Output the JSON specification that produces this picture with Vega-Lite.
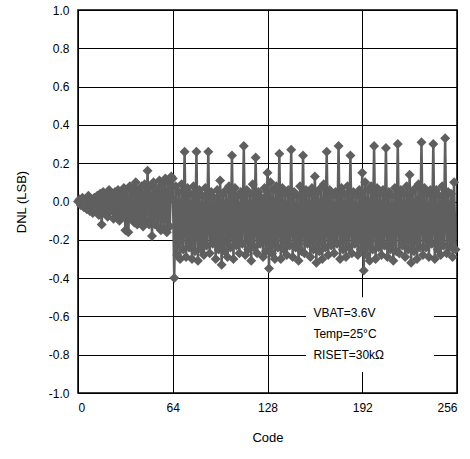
{
  "$schema": "https://vega.github.io/schema/vega-lite/v6.json",
  "width": 379,
  "height": 383,
  "autosize": {"type": "none"},
  "padding": {"left": 78, "top": 10, "right": 13, "bottom": 66},
  "background": "white",
  "config": {
    "view": {"stroke": "black", "strokeWidth": 1.5},
    "font": "Liberation Sans",
    "axis": {
      "gridColor": "black", "gridOpacity": 1, "gridWidth": 1,
      "domain": false, "ticks": false, "labelOverlap": false,
      "labelFont": "Liberation Sans", "labelFontSize": 12, "labelColor": "black",
      "titleFont": "Liberation Sans", "titleFontSize": 13, "titleFontWeight": "normal", "titleColor": "black"
    }
  },
  "layer": [
    {
      "data": {"values": [
        {"c":0,"d":0.00},{"c":1,"d":0.01},{"c":2,"d":-0.02},{"c":3,"d":0.02},{"c":4,"d":-0.03},{"c":5,"d":0.00},{"c":6,"d":-0.04},{"c":7,"d":0.03},
        {"c":8,"d":-0.05},{"c":9,"d":0.01},{"c":10,"d":-0.06},{"c":11,"d":0.02},{"c":12,"d":-0.04},{"c":13,"d":0.03},{"c":14,"d":-0.07},{"c":15,"d":0.04},
        {"c":16,"d":-0.12},{"c":17,"d":0.05},{"c":18,"d":-0.06},{"c":19,"d":0.03},{"c":20,"d":-0.08},{"c":21,"d":0.06},{"c":22,"d":-0.05},{"c":23,"d":0.04},
        {"c":24,"d":-0.09},{"c":25,"d":0.05},{"c":26,"d":-0.07},{"c":27,"d":0.06},{"c":28,"d":-0.10},{"c":29,"d":0.04},{"c":30,"d":-0.08},{"c":31,"d":0.07},
        {"c":32,"d":-0.15},{"c":33,"d":0.06},{"c":34,"d":-0.16},{"c":35,"d":0.08},{"c":36,"d":-0.09},{"c":37,"d":0.07},{"c":38,"d":-0.11},{"c":39,"d":0.10},
        {"c":40,"d":-0.12},{"c":41,"d":0.06},{"c":42,"d":-0.10},{"c":43,"d":0.08},{"c":44,"d":-0.13},{"c":45,"d":0.09},{"c":46,"d":-0.10},{"c":47,"d":0.16},
        {"c":48,"d":-0.12},{"c":49,"d":0.08},{"c":50,"d":-0.18},{"c":51,"d":0.10},{"c":52,"d":-0.12},{"c":53,"d":0.07},{"c":54,"d":-0.13},{"c":55,"d":0.11},
        {"c":56,"d":-0.15},{"c":57,"d":0.09},{"c":58,"d":-0.14},{"c":59,"d":0.12},{"c":60,"d":-0.16},{"c":61,"d":0.10},{"c":62,"d":-0.13},{"c":63,"d":0.13},
        {"c":64,"d":0.12},{"c":65,"d":-0.40},{"c":66,"d":0.08},{"c":67,"d":-0.28},{"c":68,"d":0.05},{"c":69,"d":-0.30},{"c":70,"d":0.09},{"c":71,"d":-0.25},
        {"c":72,"d":0.26},{"c":73,"d":-0.29},{"c":74,"d":0.07},{"c":75,"d":-0.24},{"c":76,"d":0.04},{"c":77,"d":-0.30},{"c":78,"d":0.08},{"c":79,"d":-0.26},
        {"c":80,"d":0.26},{"c":81,"d":-0.31},{"c":82,"d":0.06},{"c":83,"d":-0.25},{"c":84,"d":0.03},{"c":85,"d":-0.28},{"c":86,"d":0.07},{"c":87,"d":-0.23},
        {"c":88,"d":0.26},{"c":89,"d":-0.27},{"c":90,"d":0.05},{"c":91,"d":-0.22},{"c":92,"d":0.02},{"c":93,"d":-0.30},{"c":94,"d":0.06},{"c":95,"d":-0.25},
        {"c":96,"d":0.11},{"c":97,"d":-0.33},{"c":98,"d":0.04},{"c":99,"d":-0.26},{"c":100,"d":0.06},{"c":101,"d":-0.29},{"c":102,"d":0.08},{"c":103,"d":-0.24},
        {"c":104,"d":0.24},{"c":105,"d":-0.30},{"c":106,"d":0.07},{"c":107,"d":-0.23},{"c":108,"d":0.03},{"c":109,"d":-0.27},{"c":110,"d":0.05},{"c":111,"d":-0.22},
        {"c":112,"d":0.29},{"c":113,"d":-0.28},{"c":114,"d":0.06},{"c":115,"d":-0.25},{"c":116,"d":0.04},{"c":117,"d":-0.31},{"c":118,"d":0.09},{"c":119,"d":-0.24},
        {"c":120,"d":0.23},{"c":121,"d":-0.27},{"c":122,"d":0.05},{"c":123,"d":-0.22},{"c":124,"d":0.02},{"c":125,"d":-0.29},{"c":126,"d":0.07},{"c":127,"d":-0.26},
        {"c":128,"d":0.15},{"c":129,"d":-0.35},{"c":130,"d":0.10},{"c":131,"d":-0.27},{"c":132,"d":0.06},{"c":133,"d":-0.30},{"c":134,"d":0.08},{"c":135,"d":-0.24},
        {"c":136,"d":0.25},{"c":137,"d":-0.30},{"c":138,"d":0.07},{"c":139,"d":-0.25},{"c":140,"d":0.04},{"c":141,"d":-0.28},{"c":142,"d":0.06},{"c":143,"d":-0.23},
        {"c":144,"d":0.27},{"c":145,"d":-0.29},{"c":146,"d":0.05},{"c":147,"d":-0.24},{"c":148,"d":0.03},{"c":149,"d":-0.31},{"c":150,"d":0.08},{"c":151,"d":-0.26},
        {"c":152,"d":0.24},{"c":153,"d":-0.27},{"c":154,"d":0.06},{"c":155,"d":-0.22},{"c":156,"d":0.04},{"c":157,"d":-0.29},{"c":158,"d":0.07},{"c":159,"d":-0.25},
        {"c":160,"d":0.13},{"c":161,"d":-0.32},{"c":162,"d":0.05},{"c":163,"d":-0.26},{"c":164,"d":0.07},{"c":165,"d":-0.30},{"c":166,"d":0.09},{"c":167,"d":-0.24},
        {"c":168,"d":0.26},{"c":169,"d":-0.28},{"c":170,"d":0.06},{"c":171,"d":-0.23},{"c":172,"d":0.03},{"c":173,"d":-0.27},{"c":174,"d":0.05},{"c":175,"d":-0.22},
        {"c":176,"d":0.29},{"c":177,"d":-0.30},{"c":178,"d":0.07},{"c":179,"d":-0.25},{"c":180,"d":0.04},{"c":181,"d":-0.29},{"c":182,"d":0.08},{"c":183,"d":-0.24},
        {"c":184,"d":0.24},{"c":185,"d":-0.27},{"c":186,"d":0.05},{"c":187,"d":-0.22},{"c":188,"d":0.03},{"c":189,"d":-0.28},{"c":190,"d":0.06},{"c":191,"d":-0.25},
        {"c":192,"d":0.15},{"c":193,"d":-0.36},{"c":194,"d":0.10},{"c":195,"d":-0.28},{"c":196,"d":0.06},{"c":197,"d":-0.31},{"c":198,"d":0.08},{"c":199,"d":-0.25},
        {"c":200,"d":0.29},{"c":201,"d":-0.30},{"c":202,"d":0.07},{"c":203,"d":-0.24},{"c":204,"d":0.04},{"c":205,"d":-0.28},{"c":206,"d":0.06},{"c":207,"d":-0.23},
        {"c":208,"d":0.28},{"c":209,"d":-0.29},{"c":210,"d":0.05},{"c":211,"d":-0.25},{"c":212,"d":0.03},{"c":213,"d":-0.31},{"c":214,"d":0.07},{"c":215,"d":-0.26},
        {"c":216,"d":0.30},{"c":217,"d":-0.27},{"c":218,"d":0.06},{"c":219,"d":-0.23},{"c":220,"d":0.04},{"c":221,"d":-0.29},{"c":222,"d":0.08},{"c":223,"d":-0.25},
        {"c":224,"d":0.14},{"c":225,"d":-0.32},{"c":226,"d":0.05},{"c":227,"d":-0.26},{"c":228,"d":0.07},{"c":229,"d":-0.30},{"c":230,"d":0.09},{"c":231,"d":-0.24},
        {"c":232,"d":0.31},{"c":233,"d":-0.28},{"c":234,"d":0.07},{"c":235,"d":-0.24},{"c":236,"d":0.04},{"c":237,"d":-0.29},{"c":238,"d":0.06},{"c":239,"d":-0.22},
        {"c":240,"d":0.30},{"c":241,"d":-0.30},{"c":242,"d":0.06},{"c":243,"d":-0.25},{"c":244,"d":0.03},{"c":245,"d":-0.28},{"c":246,"d":0.08},{"c":247,"d":-0.23},
        {"c":248,"d":0.33},{"c":249,"d":-0.27},{"c":250,"d":0.05},{"c":251,"d":-0.24},{"c":252,"d":0.04},{"c":253,"d":-0.29},{"c":254,"d":0.10},{"c":255,"d":-0.25}
      ]},
      "mark": {
        "type": "line", "color": "#5f5f5f", "strokeWidth": 2.5,
        "point": {"shape": "diamond", "size": 100, "filled": true, "color": "#5f5f5f", "opacity": 1}
      },
      "encoding": {
        "x": {
          "field": "c", "type": "quantitative",
          "scale": {"domain": [0, 256], "nice": false, "zero": false},
          "axis": {"values": [0, 64, 128, 192, 256], "tickCount": 20, "title": "Code", "labelPadding": 9, "titlePadding": 18, "grid": true, "labelOverlap": false}
        },
        "y": {
          "field": "d", "type": "quantitative",
          "scale": {"domain": [-1, 1], "nice": false},
          "axis": {
            "values": [-1, -0.8, -0.6, -0.4, -0.2, 0, 0.2, 0.4, 0.6, 0.8, 1],
            "tickCount": 20,
            "labelOverlap": false,
            "labelExpr": "datum.value < -0.001 ? '-' + format(-datum.value, '.1f') : format(abs(datum.value), '.1f')",
            "title": "DNL (LSB)", "labelPadding": 9, "titlePadding": 20, "grid": true
          }
        }
      }
    },
    {
      "data": {"values": [{"box": "legend"}]},
      "mark": {"type": "rect", "color": "white"},
      "encoding": {
        "x": {"datum": 154, "type": "quantitative"},
        "x2": {"datum": 240.5},
        "y": {"datum": -0.5, "type": "quantitative"},
        "y2": {"datum": -0.89}
      }
    },
    {
      "data": {"values": [{"box": "legend"}]},
      "mark": {"type": "text", "text": ["VBAT=3.6V", "Temp=25°C", "RISET=30kΩ"], "align": "left", "baseline": "top", "lineHeight": 21, "fontSize": 12, "font": "Liberation Sans", "color": "black"},
      "encoding": {
        "x": {"datum": 159, "type": "quantitative"},
        "y": {"datum": -0.555, "type": "quantitative"}
      }
    }
  ]
}
